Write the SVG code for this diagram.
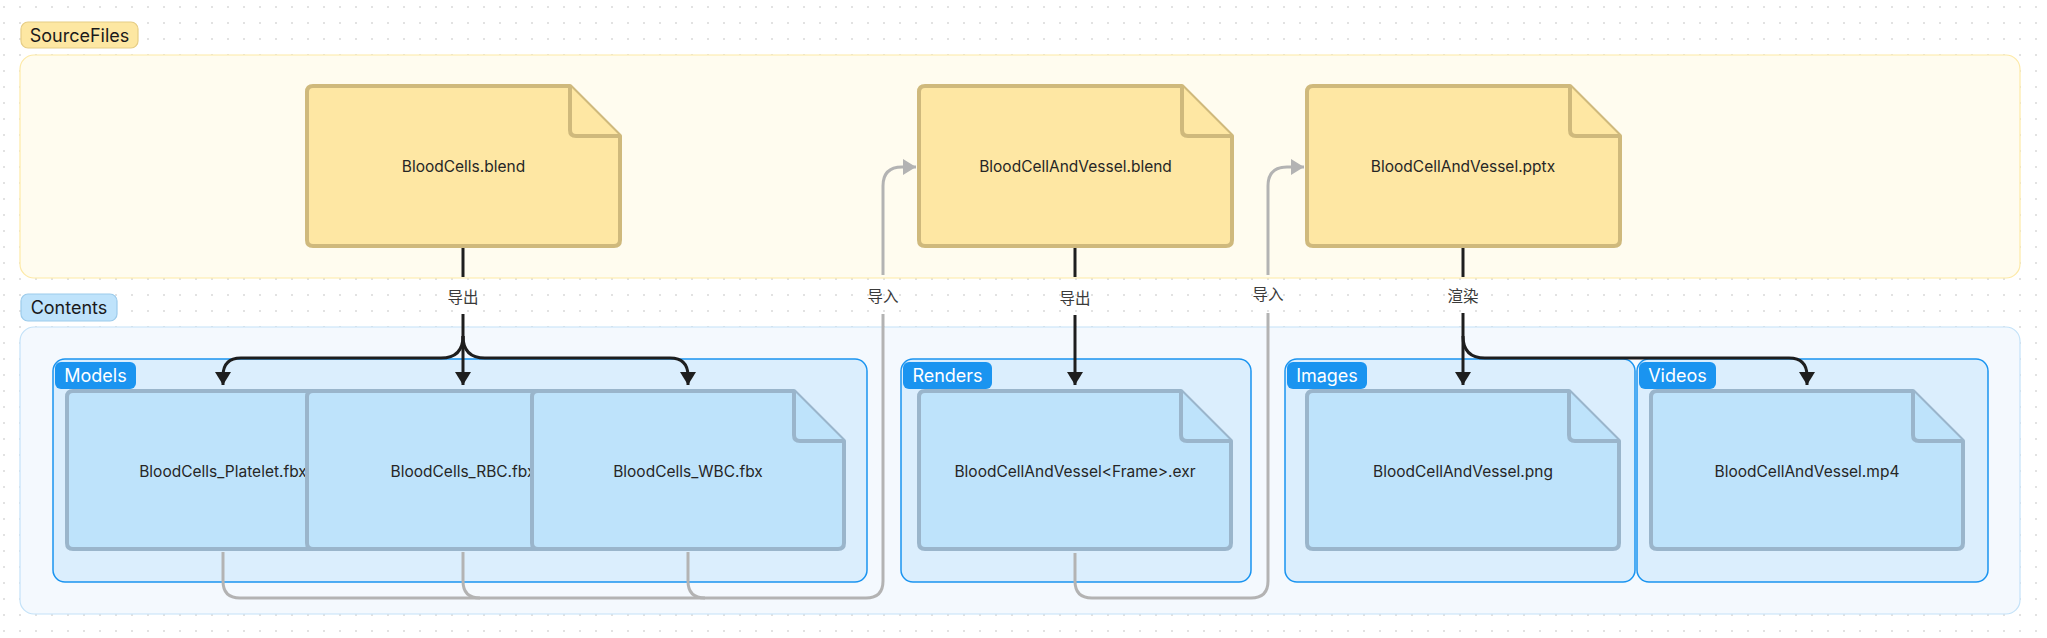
<svg xmlns="http://www.w3.org/2000/svg" width="2047" height="638" viewBox="0 0 2047 638">
<style>
text{font-family:Inter,"Noto Sans","Noto Sans CJK SC",sans-serif;text-anchor:middle;dominant-baseline:central}
.cl{font-size:18px;fill:#1a1a1a}
.gl{font-size:18px;fill:#ffffff}
.ft{font-size:15.5px;fill:#262626}
.el{font-size:15.5px;fill:#3a3a3a;font-family:"Noto Sans CJK SC",Inter,sans-serif}
.ydoc{fill:#fee7a3;stroke:#cfb97c;stroke-width:4;stroke-linejoin:round}
.bdoc{fill:#bee3fb;stroke:#9ab5cb;stroke-width:4;stroke-linejoin:round}
.grp{fill:#dbeefd;stroke:#1a94f0;stroke-width:1.5}
.glab{fill:#1a94f0}
.blk{fill:none;stroke:#1e1e1e;stroke-width:3}
.gry{fill:none;stroke:#b3b3b3;stroke-width:3}
</style>
<defs>
<pattern id="dots" patternUnits="userSpaceOnUse" x="0" y="0" width="16" height="16">
<circle cx="4" cy="7" r="1" fill="#d9d9d9"/>
</pattern>
<marker id="ab" markerUnits="userSpaceOnUse" markerWidth="14" markerHeight="16" refX="13" refY="8" orient="auto">
<path d="M0,0 L13,8 L0,16 Z" fill="#1e1e1e"/>
</marker>
<marker id="ag" markerUnits="userSpaceOnUse" markerWidth="14" markerHeight="16" refX="13" refY="8" orient="auto">
<path d="M0,0 L13,8 L0,16 Z" fill="#b3b3b3"/>
</marker>
</defs>
<rect x="0" y="0" width="2047" height="638" fill="#ffffff"/>
<rect x="0" y="0" width="2047" height="638" fill="url(#dots)"/>

<g id="c_sourcefiles">
<rect x="20" y="55" width="2000" height="223" rx="14" fill="#fffcef" stroke="#fde9a6" stroke-width="1.2"/>
<rect x="21" y="22" width="117" height="26" rx="7" fill="#fde7a2" stroke="#e6cd85" stroke-width="1.2"/>
<text class="cl" x="79.5" y="35">SourceFiles</text>
</g>

<g id="c_contents">
<rect x="20" y="327" width="2000" height="287" rx="14" fill="#f4f9fe" stroke="#c3e2f8" stroke-width="1.2"/>
<rect x="21" y="294" width="96" height="27" rx="7" fill="#bfe3fb" stroke="#9ccbeb" stroke-width="1.2"/>
<text class="cl" x="69" y="307.5">Contents</text>
</g>

<g id="g_models">
<rect class="grp" x="53" y="359" width="814" height="223" rx="12"/>
<rect class="glab" x="55" y="362" width="81" height="27" rx="6"/>
<text class="gl" x="95.5" y="375.5">Models</text>
</g>
<g id="g_renders">
<rect class="grp" x="901" y="359" width="350" height="223" rx="12"/>
<rect class="glab" x="903" y="362" width="89" height="27" rx="6"/>
<text class="gl" x="947.5" y="375.5">Renders</text>
</g>
<g id="g_images">
<rect class="grp" x="1285" y="359" width="350" height="223" rx="12"/>
<rect class="glab" x="1287" y="362" width="80" height="27" rx="6"/>
<text class="gl" x="1327" y="375.5">Images</text>
</g>
<g id="g_videos">
<rect class="grp" x="1637" y="359" width="351" height="223" rx="12"/>
<rect class="glab" x="1639" y="362" width="77" height="27" rx="6"/>
<text class="gl" x="1677.5" y="375.5">Videos</text>
</g>

<g id="connectors">
<path class="blk" d="M463,248 V277"/>
<path class="blk" d="M463,314 V385" marker-end="url(#ab)"/>
<path class="blk" d="M463,336 Q463,358 441,358 H241 Q223,358 223,376 V385" marker-end="url(#ab)"/>
<path class="blk" d="M463,336 Q463,358 485,358 H670 Q688,358 688,376 V385" marker-end="url(#ab)"/>
<path class="blk" d="M1075,248 V277"/>
<path class="blk" d="M1075,315 V385" marker-end="url(#ab)"/>
<path class="blk" d="M1463,248 V277"/>
<path class="blk" d="M1463,313 V385" marker-end="url(#ab)"/>
<path class="blk" d="M1463,336 Q1463,358 1485,358 H1789 Q1807,358 1807,376 V385" marker-end="url(#ab)"/>
<path class="gry" d="M223,552 V581 Q223,598 240,598 H866 Q883,598 883,581 V314"/>
<path class="gry" d="M463,552 V581 Q463,598 480,598"/>
<path class="gry" d="M688,552 V581 Q688,598 705,598"/>
<path class="gry" d="M883,275 V186 Q883,167 902,167 H916" marker-end="url(#ag)"/>
<path class="gry" d="M1075,553 V581 Q1075,598 1092,598 H1251 Q1268,598 1268,581 V313"/>
<path class="gry" d="M1268,275 V186 Q1268,167 1287,167 H1304" marker-end="url(#ag)"/>
<text class="el" x="463" y="296">导出</text>
<text class="el" x="1075" y="297">导出</text>
<text class="el" x="1463" y="295">渲染</text>
<text class="el" x="883" y="295">导入</text>
<text class="el" x="1268" y="293">导入</text>
</g>

<g id="n_bloodcells_blend" transform="translate(307,86)">
<path class="ydoc" d="M6,0 H263 L313,50 V154 Q313,160 307,160 H6 Q0,160 0,154 V6 Q0,0 6,0 Z"/>
<path class="ydoc" d="M263,0 V44 Q263,50 269,50 H313"/>
<text class="ft" x="156.5" y="80">BloodCells.blend</text>
</g>
<g id="n_vessel_blend" transform="translate(919,86)">
<path class="ydoc" d="M6,0 H263 L313,50 V154 Q313,160 307,160 H6 Q0,160 0,154 V6 Q0,0 6,0 Z"/>
<path class="ydoc" d="M263,0 V44 Q263,50 269,50 H313"/>
<text class="ft" x="156.5" y="80">BloodCellAndVessel.blend</text>
</g>
<g id="n_vessel_pptx" transform="translate(1307,86)">
<path class="ydoc" d="M6,0 H263 L313,50 V154 Q313,160 307,160 H6 Q0,160 0,154 V6 Q0,0 6,0 Z"/>
<path class="ydoc" d="M263,0 V44 Q263,50 269,50 H313"/>
<text class="ft" x="156" y="80">BloodCellAndVessel.pptx</text>
</g>

<g id="n_platelet" transform="translate(67,391)">
<path class="bdoc" d="M6,0 H262 L312,50 V152 Q312,158 306,158 H6 Q0,158 0,152 V6 Q0,0 6,0 Z"/>
<path class="bdoc" d="M262,0 V44 Q262,50 268,50 H312"/>
<text class="ft" x="156" y="80">BloodCells_Platelet.fbx</text>
</g>
<g id="n_rbc" transform="translate(307,391)">
<path class="bdoc" d="M6,0 H262 L312,50 V152 Q312,158 306,158 H6 Q0,158 0,152 V6 Q0,0 6,0 Z"/>
<path class="bdoc" d="M262,0 V44 Q262,50 268,50 H312"/>
<text class="ft" x="156" y="80">BloodCells_RBC.fbx</text>
</g>
<g id="n_wbc" transform="translate(532,391)">
<path class="bdoc" d="M6,0 H262 L312,50 V152 Q312,158 306,158 H6 Q0,158 0,152 V6 Q0,0 6,0 Z"/>
<path class="bdoc" d="M262,0 V44 Q262,50 268,50 H312"/>
<text class="ft" x="156" y="80">BloodCells_WBC.fbx</text>
</g>
<g id="n_exr" transform="translate(919,391)">
<path class="bdoc" d="M6,0 H262 L312,50 V152 Q312,158 306,158 H6 Q0,158 0,152 V6 Q0,0 6,0 Z"/>
<path class="bdoc" d="M262,0 V44 Q262,50 268,50 H312"/>
<text class="ft" x="156" y="80">BloodCellAndVessel&lt;Frame&gt;.exr</text>
</g>
<g id="n_png" transform="translate(1307,391)">
<path class="bdoc" d="M6,0 H262 L312,50 V152 Q312,158 306,158 H6 Q0,158 0,152 V6 Q0,0 6,0 Z"/>
<path class="bdoc" d="M262,0 V44 Q262,50 268,50 H312"/>
<text class="ft" x="156" y="80">BloodCellAndVessel.png</text>
</g>
<g id="n_mp4" transform="translate(1651,391)">
<path class="bdoc" d="M6,0 H262 L312,50 V152 Q312,158 306,158 H6 Q0,158 0,152 V6 Q0,0 6,0 Z"/>
<path class="bdoc" d="M262,0 V44 Q262,50 268,50 H312"/>
<text class="ft" x="156" y="80">BloodCellAndVessel.mp4</text>
</g>
</svg>
